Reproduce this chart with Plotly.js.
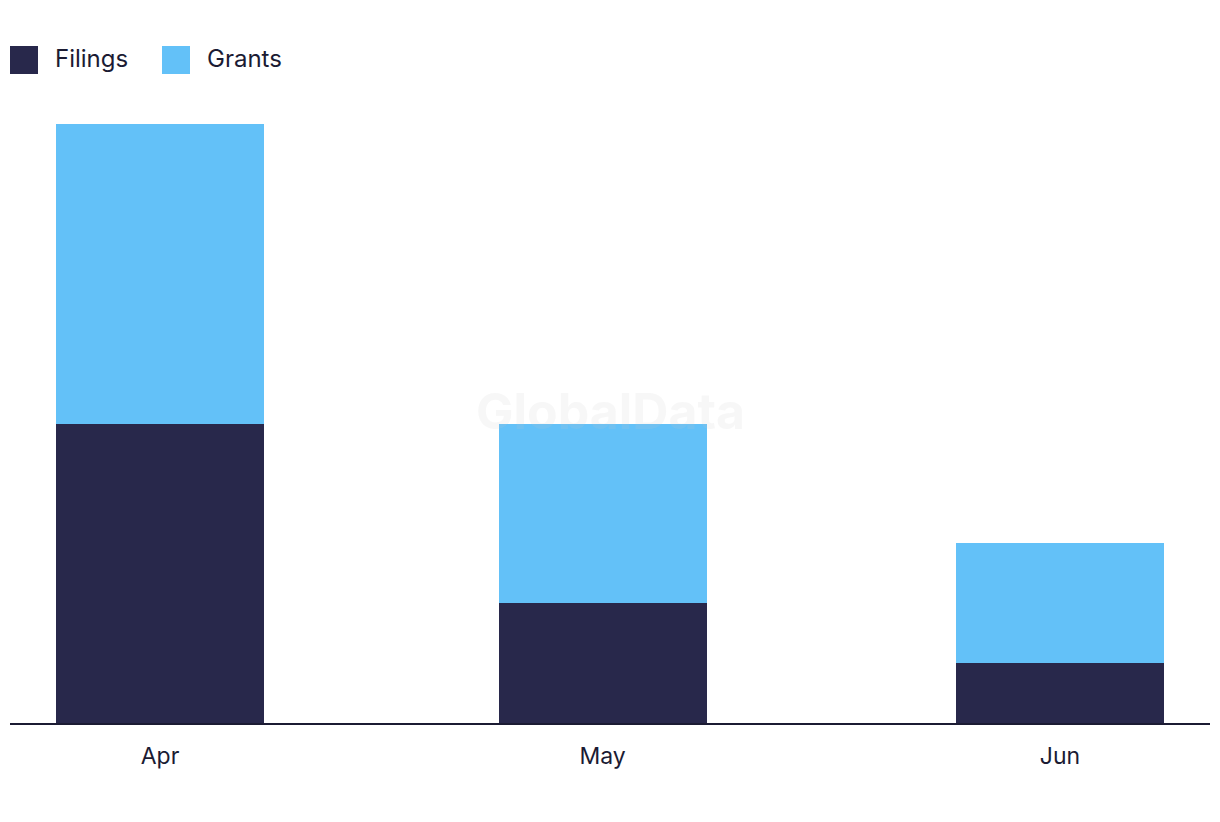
<!DOCTYPE html>
<html>
<head>
<meta charset="utf-8">
<script src="https://cdn.plot.ly/plotly-3.0.1.min.js"></script>
<style>
  body { margin: 0; background: #fff; }
  #graph { width: 1220px; height: 822px; }
</style>
</head>
<body>
<div id="graph"></div>
<script>
// data
var months = ['2024-04-01', '2024-05-01', '2024-06-01']
var filings = [5, 2, 1]
var grants = [5, 3, 2]
var seriesNames = ['Filings', 'Grants']
var seriesColors = ['#28284b', '#63c1f8']

var W = 1220, H = 822
var mL = 10, mR = 10, mT = 124, mB = 99
var plotW = W - mL - mR, plotH = H - mT - mB
var font = 'Inter, "Open Sans", sans-serif'
var ink = '#1b1b33'

// pixel -> paper helpers
function px(x) { return (x - mL) / plotW }
function py(y) { return (H - mB - y) / plotH }

var barWidth = 14.1 * 86400000

var trace_f = {
  x: months, y: filings, type: 'bar', name: seriesNames[0],
  width: barWidth,
  marker: { color: seriesColors[0] },
  hoverinfo: 'none'
}
var trace_g = {
  x: months, y: grants, type: 'bar', name: seriesNames[1],
  width: barWidth,
  marker: { color: seriesColors[1] },
  hoverinfo: 'none'
}

// hand-made legend (big squares like the reference)
var shapes = [], annotations = []
var legX = [10, 162]
for (var i = 0; i < seriesNames.length; i++) {
  shapes.push({
    type: 'rect', xref: 'paper', yref: 'paper',
    x0: px(legX[i]), x1: px(legX[i] + 28), y0: py(74), y1: py(46),
    fillcolor: seriesColors[i], line: { width: 0 }
  })
  annotations.push({
    xref: 'paper', yref: 'paper', x: px(legX[i] + 43), y: py(58),
    xanchor: 'left', yanchor: 'middle', showarrow: false,
    text: seriesNames[i], font: { family: font, size: 24, color: ink }
  })
}
// watermark
annotations.push({
  xref: 'paper', yref: 'paper', x: px(610), y: py(411),
  xanchor: 'center', yanchor: 'middle', showarrow: false,
  text: '<b>GlobalData</b>',
  font: { family: font, size: 50, color: 'rgba(200,200,200,0.14)' }
})

var layout = {
  width: W, height: H,
  margin: { l: mL, r: mR, t: mT, b: mB, pad: 0 },
  barmode: 'stack',
  showlegend: false,
  paper_bgcolor: '#fff',
  plot_bgcolor: '#fff',
  font: { family: font, size: 23, color: ink },
  xaxis: {
    type: 'date',
    range: ['2024-03-21 20:00', '2024-06-11 04:00'],
    tickvals: months,
    tickformat: '%b',
    showline: true, linecolor: ink, linewidth: 2,
    showgrid: false, zeroline: false,
    ticks: '', ticklabelstandoff: 11,
    tickfont: { family: font, size: 23, color: ink }
  },
  yaxis: {
    range: [0, 10],
    showline: false, showgrid: false, zeroline: false,
    showticklabels: false, ticks: ''
  },
  shapes: shapes,
  annotations: annotations
}

Plotly.newPlot('graph', [trace_f, trace_g], layout, { displayModeBar: false, staticPlot: true })
</script>
</body>
</html>
